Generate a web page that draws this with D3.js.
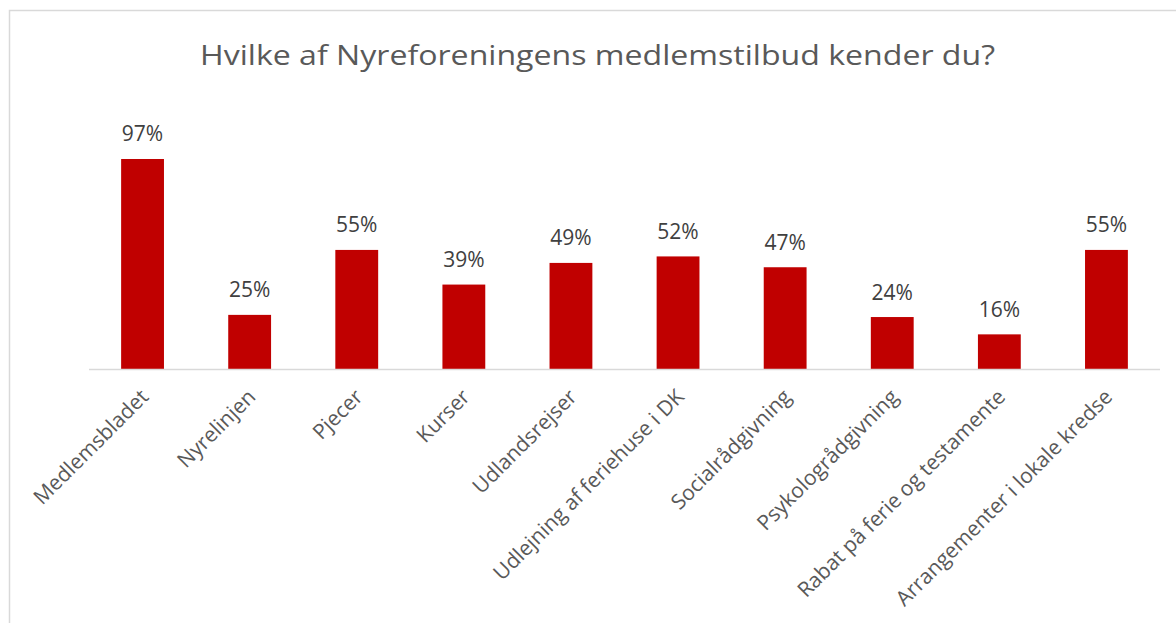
<!DOCTYPE html>
<html>
<head>
<meta charset="utf-8">
<script src="https://cdn.jsdelivr.net/npm/d3@7"></script>
<style>
  html, body { margin: 0; padding: 0; background: #ffffff; }
  svg { display: block; }
</style>
</head>
<body>
<script>
const title = "Hvilke af Nyreforeningens medlemstilbud kender du?";
const categories = [
  "Medlemsbladet", "Nyrelinjen", "Pjecer", "Kurser", "Udlandsrejser",
  "Udlejning af feriehuse i DK", "Socialrådgivning", "Psykologrådgivning",
  "Rabat på ferie og testamente", "Arrangementer i lokale kredse"
];
const values = [0.97, 0.25, 0.55, 0.39, 0.49, 0.52, 0.47, 0.24, 0.16, 0.55];

const W = 1176, H = 623;
const font = "'Open Sans', 'Noto Sans', sans-serif";

const svg = d3.select("body").append("svg")
  .attr("width", W).attr("height", H);

// chart border (only top and left are visible in the reference)
svg.append("rect")
  .attr("x", 9.5).attr("y", 10.5)
  .attr("width", W + 20).attr("height", H + 20)
  .attr("fill", "#ffffff")
  .attr("stroke", "#d9d9d9").attr("stroke-width", 1.5);

// title
const t = svg.append("text")
  .attr("x", 597.5).attr("y", 65)
  .attr("text-anchor", "middle")
  .attr("font-family", font)
  .attr("font-size", 28)
  .attr("fill", "#595959")
  .text(title);
const tw = t.node().getComputedTextLength();
if (Math.abs(tw - 795) > 4) t.attr("textLength", 795).attr("lengthAdjust", "spacingAndGlyphs");

const x = d3.scaleBand()
  .domain(categories)
  .range([89, 1160])
  .paddingInner(0.6)
  .paddingOuter(0.3);

const y = d3.scaleLinear()
  .domain([0, 1])
  .range([369, 152.5]);

// bars
svg.append("g").selectAll("rect")
  .data(categories)
  .join("rect")
  .attr("x", d => x(d))
  .attr("y", (d, i) => y(values[i]))
  .attr("width", x.bandwidth())
  .attr("height", (d, i) => y(0) - y(values[i]))
  .attr("fill", "#c00000");

// value labels
svg.append("g").selectAll("text")
  .data(categories)
  .join("text")
  .attr("x", d => x(d) + x.bandwidth() / 2)
  .attr("y", (d, i) => y(values[i]) - 17.5)
  .attr("text-anchor", "middle")
  .attr("font-family", font)
  .attr("font-size", 21)
  .attr("fill", "#404040")
  .text((d, i) => Math.round(values[i] * 100) + "%");

// x axis
const xAxis = d3.axisBottom(x).tickSize(0).tickPadding(0);
const gx = svg.append("g")
  .attr("transform", `translate(0,${y(0)})`)
  .call(xAxis);
gx.select(".domain").attr("stroke", "#d9d9d9").attr("stroke-width", 1.5)
  .attr("d", `M89,0.5H1160`);
gx.selectAll(".tick text")
  .attr("font-family", font)
  .attr("font-size", 21)
  .attr("fill", "#595959")
  .attr("text-anchor", "end")
  .attr("dy", "0.35em")
  .attr("y", 0)
  .attr("transform", "translate(2,24) rotate(-45)");
</script>
</body>
</html>
